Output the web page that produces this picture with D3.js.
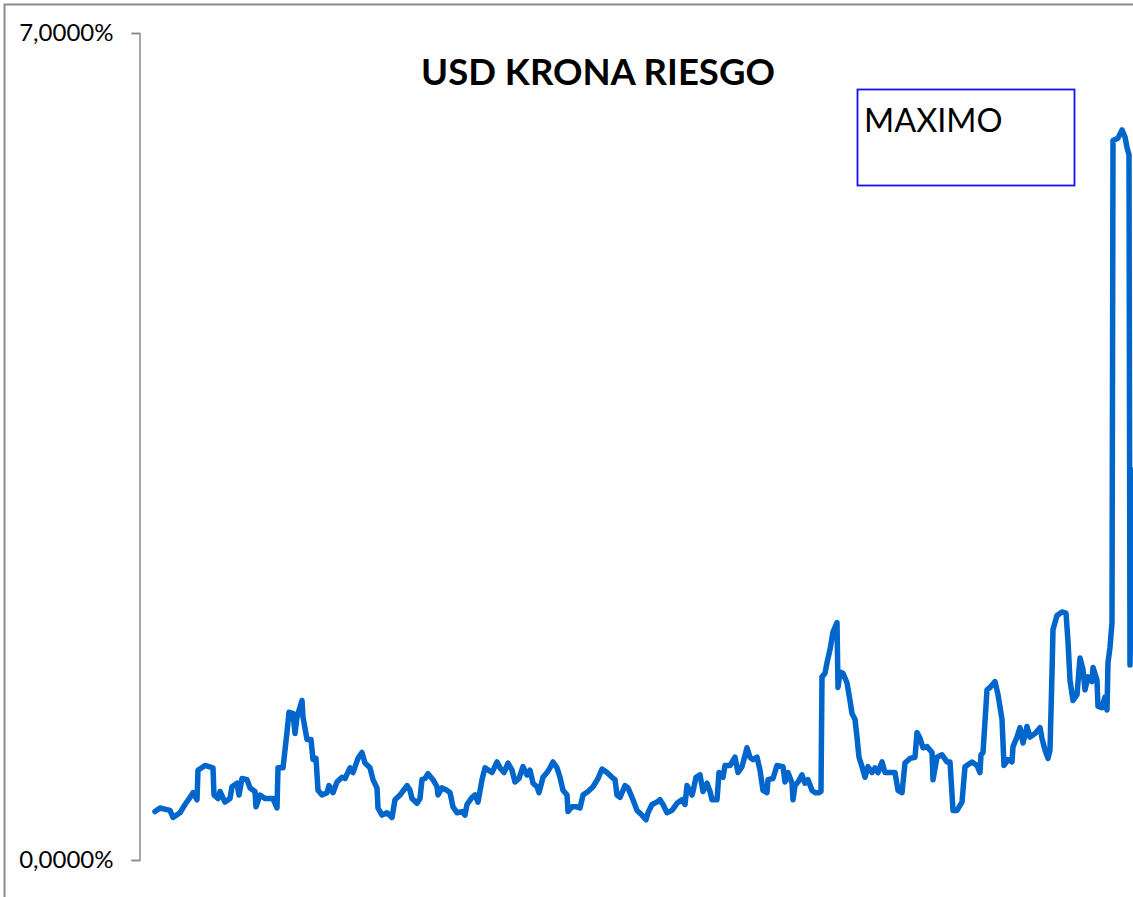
<!DOCTYPE html>
<html>
<head>
<meta charset="utf-8">
<script src="https://cdn.jsdelivr.net/npm/d3@7"></script>
<style>
  body { margin: 0; background: #fff; }
  svg text { font-family: Lato, "Open Sans", sans-serif; }
</style>
</head>
<body>
<svg class="chart" width="1133" height="897"></svg>
<script>
// observation number (unlabelled time axis) and spread in %
const obs = [1, 6, 16, 19, 26, 31, 36, 39, 43, 44, 51, 59, 60, 64, 66, 71, 76, 78, 83, 85, 88, 93, 96, 101, 102, 106, 111, 119, 123, 124, 129, 133, 135, 139, 141, 143, 148, 149, 153, 157, 159, 162, 164, 168, 173, 175, 179, 183, 188, 191, 196, 199, 204, 208, 211, 216, 219, 223, 224, 228, 233,
  238, 241, 246, 253, 256, 258, 263, 266, 268, 271, 274, 279, 283, 284, 288, 293, 296, 299, 303, 308, 311, 313, 318, 321, 324, 328, 331, 338, 343, 346, 350, 354, 358, 361, 365, 369, 373, 376, 379, 383, 385, 389, 393, 396, 399, 403, 406, 409, 413, 414, 418, 423, 426, 429, 434, 439, 444, 448, 453, 458, 461, 463, 466,
  471, 474, 479, 483, 488, 492, 494, 498, 503, 506, 509, 513, 518, 523, 528, 531, 533, 538, 539, 542, 546, 549, 553, 556, 558, 563, 565, 569, 571, 576, 581, 584, 588, 593, 596, 599, 603, 606, 609, 613, 614, 619, 623, 629, 631, 634, 638, 639, 641, 644, 648, 651, 654, 658, 661, 665, 667, 668, 671, 673, 676, 679, 683, 684, 686, 689, 693, 696, 698, 701, 703, 705, 708, 711, 714, 718, 721, 724, 728, 731, 736, 741, 744, 748, 751, 756, 761, 763, 766, 769, 773, 778, 779, 783, 788, 793, 796, 799, 803, 808, 811, 818, 823, 826, 827, 829, 833, 836, 841, 844, 848, 850, 854, 858, 859, 863, 866, 869, 873, 876, 881, 886, 888, 891, 894, 896, 898, 899, 903, 908, 912, 914, 916, 919, 923, 926, 929, 931, 934, 938, 939, 943, 944, 948, 951, 953, 954, 956, 958, 959, 964, 968, 971, 973, 975, 976, 979]
const spread = [0.41, 0.44, 0.42, 0.36, 0.40, 0.47, 0.53, 0.57, 0.51, 0.76, 0.80, 0.78, 0.55, 0.52, 0.58, 0.49, 0.52, 0.62, 0.65, 0.55, 0.69, 0.68, 0.61, 0.58, 0.45, 0.55, 0.52, 0.52, 0.44, 0.78, 0.78, 1.08, 1.25, 1.24, 1.07, 1.21, 1.35, 1.21, 1.02, 1.02, 0.85, 0.86, 0.59, 0.55, 0.57, 0.63, 0.57, 0.66, 0.70, 0.69, 0.78, 0.74, 0.86, 0.91, 0.82, 0.78, 0.68, 0.61, 0.44, 0.38, 0.40,
  0.36, 0.51, 0.55, 0.63, 0.59, 0.52, 0.48, 0.52, 0.68, 0.69, 0.73, 0.68, 0.62, 0.55, 0.61, 0.59, 0.57, 0.45, 0.40, 0.41, 0.38, 0.47, 0.53, 0.55, 0.49, 0.68, 0.78, 0.74, 0.83, 0.78, 0.74, 0.82, 0.76, 0.66, 0.69, 0.79, 0.72, 0.76, 0.65, 0.62, 0.57, 0.70, 0.74, 0.78, 0.83, 0.78, 0.70, 0.59, 0.55, 0.41, 0.45, 0.45, 0.44, 0.55, 0.58, 0.62, 0.69, 0.77, 0.74, 0.70, 0.68, 0.55, 0.53,
  0.63, 0.61, 0.51, 0.42, 0.38, 0.34, 0.40, 0.47, 0.49, 0.51, 0.47, 0.40, 0.42, 0.48, 0.51, 0.47, 0.63, 0.55, 0.58, 0.70, 0.72, 0.58, 0.65, 0.58, 0.51, 0.51, 0.74, 0.70, 0.80, 0.80, 0.87, 0.74, 0.79, 0.95, 0.87, 0.85, 0.87, 0.76, 0.59, 0.57, 0.68, 0.69, 0.80, 0.79, 0.66, 0.74, 0.65, 0.51, 0.63, 0.66, 0.72, 0.65, 0.68, 0.59, 0.57, 0.57, 0.58, 1.55, 1.58, 1.67, 1.78, 1.93, 2.01, 1.46, 1.59, 1.58, 1.50, 1.35, 1.24, 1.19, 1.04, 0.87, 0.79, 0.70, 0.79, 0.74, 0.78, 0.74, 0.83, 0.74, 0.74, 0.74, 0.59, 0.57, 0.82, 0.86, 0.87, 1.08, 1.03, 0.95, 0.96, 0.91, 0.68, 0.87, 0.89, 0.83, 0.83, 0.42, 0.42, 0.49, 0.79, 0.83, 0.80, 0.74, 0.89, 0.91, 1.44, 1.46, 1.51, 1.40, 1.19, 0.80, 0.85, 0.83, 0.96, 1.04, 1.12, 0.99, 1.13, 1.04, 1.07, 1.12, 1.03, 0.93, 0.86, 0.93, 1.58, 1.95, 2.07, 2.10, 2.09, 1.85, 1.52, 1.35, 1.40, 1.71, 1.61, 1.44, 1.55, 1.51, 1.63, 1.52, 1.30, 1.29, 1.38, 1.27, 1.67, 1.80, 2.01, 6.09, 6.11, 6.18, 6.12, 6.03, 5.97, 1.65, 3.30]

const yTicks = [0, 7]
const title = "USD KRONA RIESGO"
const boxLabel = "MAXIMO"

const svg = d3.select("svg.chart")

// outer chart frame (runs off the right and bottom edge)
svg.append("rect")
    .attr("x", 4.5)
    .attr("y", 4.5)
    .attr("width", 1200)
    .attr("height", 1000)
    .attr("fill", "none")
    .attr("stroke", "#8a8a8a")
    .attr("stroke-width", 2)

const x = d3.scaleLinear()
    .domain([0, 979])
    .range([154, 1133])

const y = d3.scaleLinear()
    .domain([0, 7])
    .range([860, 33])

const yAxis = d3.axisLeft(y)
    .tickValues(yTicks)
    .tickSizeOuter(0)
    .tickSize(8)
    .tickPadding(18)
    .tickFormat(d => d3.format(".4f")(d).replace(".", ",") + "%")

const yG = svg.append("g")
    .attr("transform", "translate(139.5, 0)")
    .call(yAxis)

yG.select(".domain").attr("stroke", "#8a8a8a").attr("stroke-width", 1.5)
yG.selectAll(".tick line").attr("stroke", "#8a8a8a").attr("stroke-width", 1.5)
yG.selectAll(".tick text")
    .attr("fill", "#000")
    .style("font-family", "Lato, 'Open Sans', sans-serif")
    .style("font-size", "24px")

const line = d3.line()
    .x((d, i) => x(obs[i]))
    .y(d => y(d))

svg.append("path")
    .datum(spread)
    .attr("d", line)
    .attr("fill", "none")
    .attr("stroke", "#0066cc")
    .attr("stroke-width", 5.5)
    .attr("stroke-linejoin", "round")
    .attr("stroke-linecap", "round")

svg.append("text")
    .attr("x", 598)
    .attr("y", 85)
    .attr("text-anchor", "middle")
    .style("font-weight", "bold")
    .style("font-size", "36.5px")
    .text(title)

svg.append("rect")
    .attr("x", 857.5)
    .attr("y", 89.5)
    .attr("width", 217)
    .attr("height", 96)
    .attr("fill", "#fff")
    .attr("stroke", "#1010ff")
    .attr("stroke-width", 1.8)

svg.append("text")
    .attr("x", 864)
    .attr("y", 132)
    .style("font-size", "32.5px")
    .text(boxLabel)
</script>
</body>
</html>
